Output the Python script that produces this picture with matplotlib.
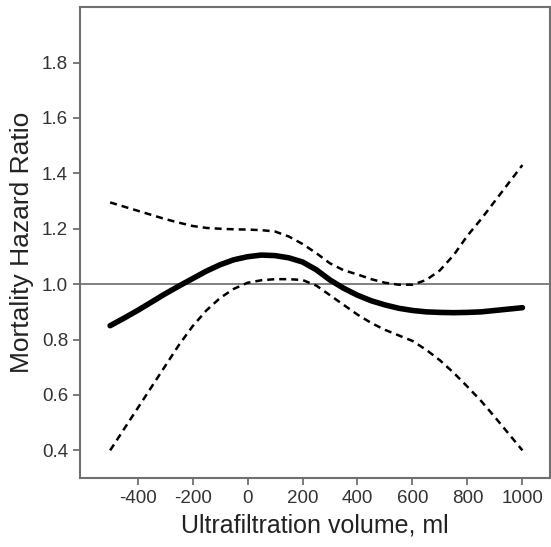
import numpy as np
import matplotlib
matplotlib.use("Agg")
import matplotlib.pyplot as plt

plt.rcParams['font.family'] = ['Liberation Sans', 'DejaVu Sans']

# values
volume = [-500, -450, -400, -350, -300, -250, -200, -150, -100, -50, 0, 50, 100, 150,
          200, 250, 300, 350, 400, 450, 500, 550, 600, 650, 700, 750, 800, 850, 900, 950, 1000]
hr = [0.850, 0.877, 0.905, 0.935, 0.965, 0.993, 1.020, 1.047, 1.070, 1.088, 1.099, 1.105, 1.103, 1.095,
      1.080, 1.052, 1.015, 0.985, 0.960, 0.940, 0.925, 0.913, 0.905, 0.900, 0.898, 0.897, 0.898, 0.900, 0.905, 0.910, 0.915]
upper = [1.295, 1.280, 1.265, 1.250, 1.235, 1.222, 1.210, 1.203, 1.200, 1.198, 1.197, 1.195, 1.190, 1.172,
         1.145, 1.112, 1.075, 1.050, 1.035, 1.018, 1.005, 0.998, 0.998, 1.015, 1.050, 1.105, 1.175, 1.235, 1.300, 1.365, 1.430]
lower = [0.400, 0.476, 0.552, 0.628, 0.704, 0.780, 0.848, 0.905, 0.950, 0.983, 1.005, 1.014, 1.018, 1.018,
         1.015, 0.995, 0.960, 0.925, 0.890, 0.860, 0.835, 0.815, 0.795, 0.763, 0.725, 0.680, 0.630, 0.578, 0.520, 0.460, 0.400]

xticks = [-400, -200, 0, 200, 400, 600, 800, 1000]
yticks = [0.4, 0.6, 0.8, 1.0, 1.2, 1.4, 1.6, 1.8]

fig = plt.figure(figsize=(5.51, 5.47), dpi=100)
ax = fig.add_axes([0.145, 0.126, 0.853, 0.861])

ax.axhline(1.0, color='#808080', lw=1.4, zorder=1)
ax.plot(volume, upper, color='black', lw=1.8, dashes=(2.8, 2.0))
ax.plot(volume, lower, color='black', lw=1.8, dashes=(2.8, 2.0))
ax.plot(volume, hr, color='black', lw=4.0, solid_capstyle='round')

ax.set_xlim(-610, 1100)
ax.set_ylim(0.3, 2.0)
ax.set_xticks(xticks)
ax.set_yticks(yticks)
ax.set_xticklabels([str(v) for v in xticks])
ax.set_yticklabels(['%.1f' % v for v in yticks])

for s in ax.spines.values():
    s.set_color('#707070')
    s.set_linewidth(1.5)
ax.tick_params(colors='#707070', labelcolor='#333333', labelsize=13.5, length=5, width=1.3)

ax.set_xlabel('Ultrafiltration volume, ml', fontsize=18, color='#222222', labelpad=5)
ax.set_ylabel('Mortality Hazard Ratio', fontsize=19, color='#222222', labelpad=6)

fig.savefig('out.png', dpi=100)
